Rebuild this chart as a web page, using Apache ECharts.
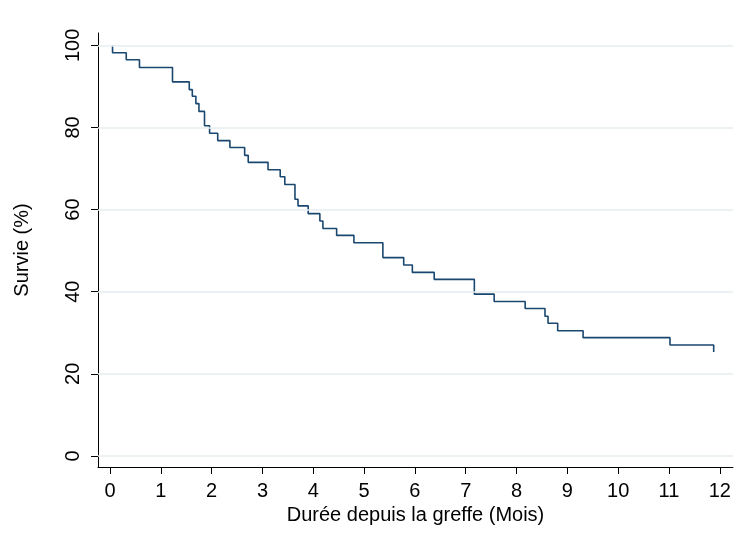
<!doctype html>
<html lang="fr">
<head>
    <meta charset="UTF-8">
    <title>Survie</title>
    <script src="https://cdn.jsdelivr.net/npm/echarts@6/dist/echarts.min.js"></script>
</head>
<body style="margin:0">
    <div id="main" style="width: 741px;height:539px;"></div>
    <script>
        // temps (mois) et survie (%) apres chaque deces
        var temps = [0.05, 0.05, 0.32, 0.58, 1.23, 1.56, 1.62, 1.69, 1.75, 1.86, 1.96, 2.12, 2.36, 2.65, 2.72,
            3.11, 3.35, 3.44, 3.64, 3.70, 3.90, 4.13, 4.19, 4.46, 4.80, 5.37, 5.78, 5.95, 6.38,
            7.17, 7.56, 8.17, 8.56, 8.62, 8.81, 9.31, 11.02, 11.88];
        var survie = [100, 98.2, 96.5, 94.6, 91.1, 89.2, 87.6, 85.8, 83.9, 80.4, 78.6, 76.8, 75.1, 73.2, 71.5,
            69.7, 68.0, 66.1, 62.5, 60.9, 59.0, 57.2, 55.4, 53.7, 51.9, 48.3, 46.5, 44.7, 43.0,
            39.4, 37.6, 35.9, 34.0, 32.3, 30.5, 28.8, 27.0, 25.3];
        var xTicks = [0, 1, 2, 3, 4, 5, 6, 7, 8, 9, 10, 11, 12];
        var yTicks = [0, 20, 40, 60, 80, 100];

        var myChart = echarts.init(document.getElementById('main'));
        var pts = temps.map(function (t, i) { return [t, survie[i]]; });

        var font = 'Liberation Sans';
        option = {
            animation: false,
            grid: { left: 98, right: 8, top: 33, bottom: 72 },
            xAxis: {
                type: 'value', min: -0.236, max: 12.26,
                name: 'Durée depuis la greffe (Mois)', nameLocation: 'middle', nameGap: 24,
                nameTextStyle: { color: '#000', fontSize: 20, fontFamily: font },
                axisLine: { onZero: false, lineStyle: { color: '#000' } },
                axisTick: { customValues: xTicks, length: 7, lineStyle: { color: '#000' } },
                axisLabel: { customValues: xTicks, color: '#000', fontSize: 20, fontFamily: font, margin: 14 },
                splitLine: { show: false }
            },
            yAxis: {
                type: 'value', min: -2.7, max: 103,
                name: 'Survie (%)', nameLocation: 'middle', nameGap: 66,
                nameTextStyle: { color: '#000', fontSize: 20, fontFamily: font },
                axisLine: { show: true, onZero: false, lineStyle: { color: '#000' } },
                axisTick: { show: true, customValues: yTicks, length: 7, lineStyle: { color: '#000' } },
                axisLabel: { customValues: yTicks, rotate: 90, color: '#000', fontSize: 20, fontFamily: font, margin: 15 },
                splitLine: { show: false }
            },
            series: [{
                type: 'line', step: 'end', data: pts, showSymbol: false,
                lineStyle: { color: '#1a476f', width: 1.6 },
                markLine: {
                    silent: true, symbol: 'none', label: { show: false },
                    lineStyle: { color: '#e6eef1', type: 'solid', width: 1.5 },
                    data: yTicks.map(function (v) { return { yAxis: v }; })
                },
                z: 3
            }]
        };
        myChart.setOption(option);
    </script>
</body>
</html>
